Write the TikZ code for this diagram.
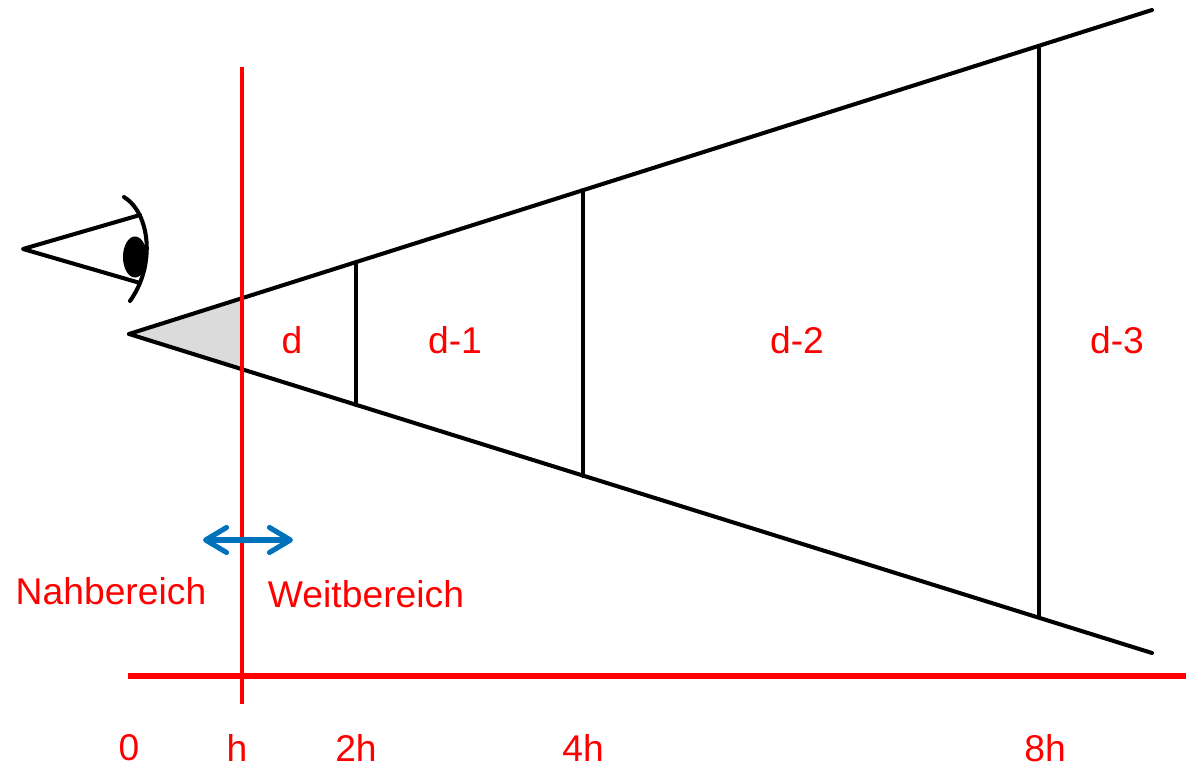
\documentclass[tikz,border=0pt]{standalone}
\usepackage{fontspec}
\setmainfont{Liberation Sans}
\usetikzlibrary{arrows.meta}
\definecolor{rangeblue}{RGB}{0,114,188}
\tikzset{
  ray/.style={line width=1.15pt,line cap=round,line join=round},
  redline/.style={color=red,line width=1.2pt},
  rangearrow/.style={color=rangeblue,line width=1.45pt,
    {Straight Barb[round,length=2.1mm,width=2.5mm]}-{Straight Barb[round,length=2.1mm,width=2.5mm]}},
  lab/.style={text=red,font=\fontsize{10.6}{12}\selectfont,inner sep=0pt}
}
\begin{document}
\begin{tikzpicture}
   \useasboundingbox (0,0) rectangle (11.86,7.65);
   \coordinate (apex) at (1.29,4.31);
   \coordinate (upperend) at (11.52,7.55);
   \coordinate (lowerend) at (11.52,1.12);
   \coordinate (hup) at (2.42,4.67);
   \coordinate (hlow) at (2.42,3.96);
   \coordinate (twoup) at (3.56,5.02);
   \coordinate (twolow) at (3.56,3.60);
   \coordinate (fourup) at (5.83,5.75);
   \coordinate (fourlow) at (5.83,2.89);
   \coordinate (eightup) at (10.39,7.17);
   \coordinate (eightlow) at (10.39,1.48);
   \coordinate (redtop) at (2.42,6.98);
   \coordinate (redbottom) at (2.42,0.61);
   \coordinate (axisleft) at (1.28,0.89);
   \coordinate (axisright) at (11.86,0.89);
   \coordinate (nearend) at (2.03,2.25);
   \coordinate (farend) at (2.93,2.25);
   \coordinate (eyetip) at (0.23,5.16);
   \coordinate (eyeup) at (1.40,5.50);
   \coordinate (eyelow) at (1.40,4.82);
   % view cone
   \fill[black!14] (apex) -- (hup) -- (hlow) -- cycle;
   \draw[ray] (apex) -- (upperend);
   \draw[ray] (apex) -- (lowerend);
   \draw[ray] (twoup) -- (twolow);
   \draw[ray] (fourup) -- (fourlow);
   \draw[ray] (eightup) -- (eightlow);
   % eye
   \draw[ray] (eyeup) -- (eyetip) -- (eyelow);
   \fill (1.35,5.08) ellipse (0.12 and 0.205);
   \draw[ray] (1.24,5.68) .. controls (1.50,5.52) and (1.56,5.00) .. (1.30,4.64);
   % range lines
   \draw[redline] (redtop) -- (redbottom);
   \draw[redline,line width=1.7pt] (axisleft) -- (axisright);
   \draw[rangearrow] (nearend) -- (farend);
   % labels
   \node[lab] (ld) at (2.92,4.25) {d};
   \node[lab] (ldone) at (4.55,4.25) {d-1};
   \node[lab] (ldtwo) at (7.97,4.25) {d-2};
   \node[lab] (ldthree) at (11.17,4.25) {d-3};
   \node[lab] (nah) at (1.11,1.74) {Nahbereich};
   \node[lab] (weit) at (3.66,1.71) {Weitbereich};
   \node[lab] (tzero) at (1.29,0.17) {0};
   \node[lab] (th) at (2.37,0.17) {h};
   \node[lab] (ttwo) at (3.56,0.17) {2h};
   \node[lab] (tfour) at (5.83,0.17) {4h};
   \node[lab] (teight) at (10.45,0.17) {8h};
\end{tikzpicture}
\end{document}
